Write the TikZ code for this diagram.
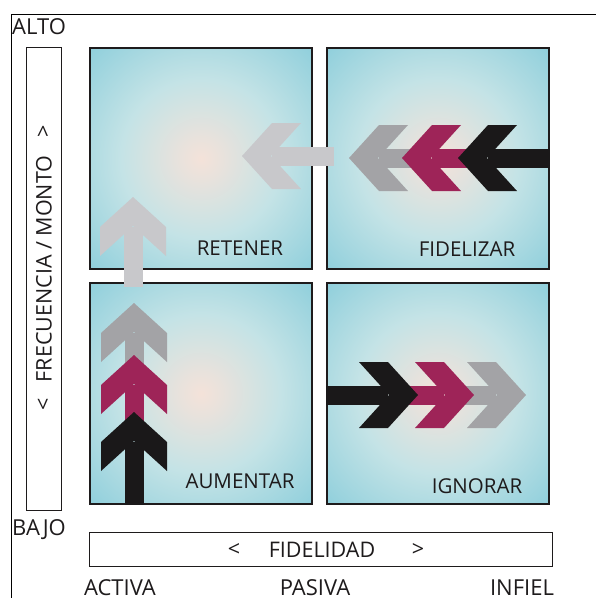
\documentclass[tikz,border=0pt]{standalone}
\usepackage{fontspec}
\setmainfont{Open Sans}
\definecolor{qcyan}{RGB}{130,202,217}
\definecolor{qmid}{RGB}{196,227,230}
\definecolor{qpeach}{RGB}{244,226,217}
\definecolor{agrey}{RGB}{163,163,166}
\definecolor{alight}{RGB}{200,200,203}
\definecolor{amag}{RGB}{158,36,88}
\definecolor{ablack}{RGB}{26,24,25}
\definecolor{txt}{RGB}{30,27,28}
\pgfdeclareradialshading{quadshade}{\pgfpoint{0bp}{0bp}}{%
  color(0bp)=(qpeach); color(5bp)=(qpeach!75!qmid); color(18bp)=(qmid);
  color(40bp)=(qcyan); color(72bp)=(qcyan)}
\newcommand\chevarrow[5]{%
  \begin{scope}[shift={(#1,#2)},rotate=#3]
    \fill[#5] (0,0) -- (-30,33) -- (-59,33) -- (-29,0) -- (-59,-33) -- (-30,-33) -- cycle;
    \fill[#5] (-30,-9.5) rectangle (-#4,9.5);
  \end{scope}}
\tikzset{
  quad/.style={draw=txt, line width=1.6pt, shading=quadshade, minimum width=222.4pt,
    minimum height=221.4pt, inner sep=0pt, outer sep=0pt},
  axbox/.style={draw=txt, line width=1.3pt, fill=white, inner sep=0pt, outer sep=0pt},
  lbl/.style={text=txt, font=\fontsize{20.5}{24}\selectfont, inner sep=0pt, anchor=base},
  big/.style={text=txt, font=\fontsize{22}{26}\selectfont, inner sep=0pt, anchor=base west},
  ax/.style={text=txt, font=\fontsize{21.5}{25}\selectfont, inner sep=0pt},
}
\begin{document}
\begin{tikzpicture}[x=1pt,y=-1pt]
\useasboundingbox (0,0) rectangle (596,598);
% frame
\coordinate (ftr) at (596,14);
\coordinate (ftl) at (11,14);
\coordinate (fbl) at (11,598);
\draw[line width=1pt, black] (ftr) -- (ftl) -- (fbl);
% quadrants
\node[quad] (ret) at (201,158.5) {};
\node[quad] (fid) at (438,158.5) {};
\node[quad] (aum) at (201,393.5) {};
\node[quad] (ign) at (438,393.5) {};
\node[lbl] (lret) at (240,255) {RETENER};
\node[lbl] (lfid) at (467,256) {FIDELIZAR};
\node[lbl] (laum) at (240,488) {AUMENTAR};
\node[lbl] (lign) at (477,493) {IGNORAR};
% axis boxes
\node[axbox, minimum width=34.7pt, minimum height=462.7pt] (vbox) at (44,279) {};
\node[axbox, minimum width=462.7pt, minimum height=33.7pt] (hbox) at (321,549.5) {};
\node[ax, rotate=90] (vlt) at (44,404) {<};
\node[ax, rotate=90] (vtx) at (44,269) {FRECUENCIA / MONTO};
\node[ax, rotate=90] (vgt) at (44,131) {>};
\node[ax] (hlt) at (234,550) {<};
\node[ax] (htx) at (322,550) {FIDELIDAD};
\node[ax] (hgt) at (418,550) {>};
% corner labels
\node[big] (alto) at (12,34) {ALTO};
\node[big] (bajo) at (12,535) {BAJO};
\node[lbl, font=\fontsize{22}{26}\selectfont] (act) at (120,595) {ACTIVA};
\node[lbl, font=\fontsize{22}{26}\selectfont] (pas) at (315,595) {PASIVA};
\node[lbl, font=\fontsize{22}{26}\selectfont] (inf) at (522,595) {INFIEL};
% light grey arrows
\chevarrow{133}{197}{90}{90}{alight}
\chevarrow{242}{156}{180}{92}{alight}
% FIDELIZAR chain (pointing left)
\chevarrow{349}{158}{180}{66}{agrey}
\chevarrow{402}{158}{180}{66}{amag}
\chevarrow{458}{158}{180}{92}{ablack}
% AUMENTAR chain (pointing up)
\chevarrow{134}{303}{90}{64}{agrey}
\chevarrow{134}{355}{90}{67}{amag}
\chevarrow{134}{412}{90}{93}{ablack}
% IGNORAR chain (pointing right)
\chevarrow{526}{395}{0}{62}{agrey}
\chevarrow{474}{395}{0}{68}{amag}
\chevarrow{418}{395}{0}{92}{ablack}
\end{tikzpicture}
\end{document}
